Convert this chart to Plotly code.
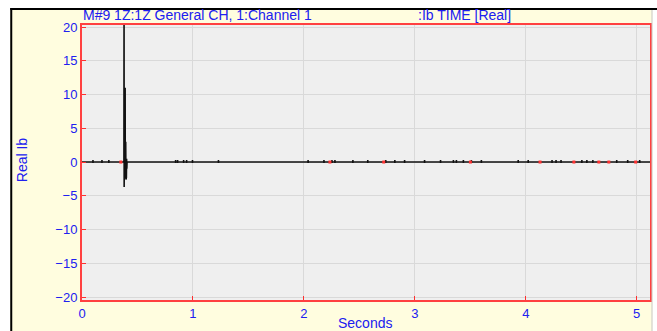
import plotly.graph_objects as go

# ---- data ----
x_range = [0, 5.12]
y_range = [-20.44, 20.3]

# main burst near 0.38 s
burst_t = [0.378, 0.379, 0.380, 0.381, 0.382, 0.383, 0.384, 0.385, 0.386, 0.387, 0.388,
           0.389, 0.390, 0.391, 0.392, 0.394, 0.396, 0.398, 0.400, 0.402, 0.404, 0.406]
burst_v = [0, 24, -3.7, 11.2, -2.0, 10.5, -1.8, 9.0, -2.2, 7.5, -1.5,
           11.0, -2.4, 6.0, -1.0, 3.0, -2.6, -0.5, -2.3, 0.5, -1.0, 0]

# tiny glitches along the zero line
glitch_t = [0.099, 0.180, 0.242, 0.844, 0.862, 0.916, 0.943, 0.996, 1.23, 2.038, 2.181,
            2.253, 2.280, 2.442, 2.576, 2.738, 2.82, 2.908, 3.088, 3.232, 3.348, 3.375,
            3.438, 3.510, 3.600, 3.932, 4.022, 4.237, 4.273, 4.318, 4.506, 4.551, 4.605,
            4.820, 4.919, 5.027]
glitch_hi = 0.3
glitch_lo = -0.15

# red marks on the zero line
red_t = [0.350, 2.235, 2.720, 3.501, 4.129, 4.434, 4.659, 4.749, 4.991]
red_v = [0, 0, 0, 0, 0, 0, 0, 0, 0]

x_ticks = [0, 1, 2, 3, 4, 5]
y_ticks = [-20, -15, -10, -5, 0, 5, 10, 15, 20]

title_left = "M#9 1Z:1Z General CH, 1:Channel 1"
title_right = ":Ib TIME [Real]"
y_title = "Real Ib"
x_title = "Seconds"

# ---- build series ----
pts = [(x_range[0], 0.0), (x_range[1], 0.0)]
pts += list(zip(burst_t, burst_v))
for t in glitch_t:
    pts += [(t - 0.0001, 0.0), (t, glitch_hi), (t + 0.00005, glitch_lo), (t + 0.0001, 0.0)]
pts.sort(key=lambda p: p[0])
xs = [p[0] for p in pts]
ys = [p[1] for p in pts]

BLUE = "#2020F0"
FONT = "Liberation Sans"

fig = go.Figure()
fig.add_trace(go.Scatter(x=xs, y=ys, mode="lines",
                         line=dict(color="#111111", width=1.6), hoverinfo="skip"))
fig.add_trace(go.Scatter(x=red_t, y=red_v, mode="markers",
                         marker=dict(color="#FF3030", size=3, symbol="square"), hoverinfo="skip"))

W, H = 657, 331
L, T = 82, 25
R = W - 652
B = H - 300
pw, ph = W - L - R, H - T - B


def px(xp):  # page pixel -> paper x
    return (xp - L) / pw


def py(yp):  # page pixel -> paper y
    return (H - B - yp) / ph


YEL = "#FFFDDF"

fig.update_layout(
    width=W, height=H,
    margin=dict(l=L, r=R, t=T, b=B),
    paper_bgcolor=YEL,
    plot_bgcolor="#EFEFEF",
    showlegend=False,
    font=dict(family=FONT, size=12, color=BLUE),
    xaxis=dict(range=x_range, tickvals=x_ticks, ticks="inside", ticklen=4, tickcolor="#FF3030",
               showgrid=True, gridcolor="#D9D9D9", gridwidth=1, zeroline=False,
               showline=True, linecolor="#FF4040", linewidth=2, mirror=True,
               tickfont=dict(family=FONT, size=13, color=BLUE)),
    yaxis=dict(range=y_range, tickvals=y_ticks, ticks="inside", ticklen=4, tickcolor="#FF3030",
               showgrid=True, gridcolor="#D9D9D9", gridwidth=1, zeroline=False,
               showline=True, linecolor="#FF4040", linewidth=2, mirror=True,
               tickfont=dict(family=FONT, size=13, color=BLUE)),
    shapes=[
        dict(type="rect", xref="paper", yref="paper", x0=px(-5), x1=px(10), y0=py(400), y1=py(-5),
             fillcolor="white", line=dict(width=0), layer="below"),
        dict(type="rect", xref="paper", yref="paper", x0=px(-5), x1=px(700), y0=py(8), y1=py(-5),
             fillcolor="white", line=dict(width=0), layer="below"),
        dict(type="rect", xref="paper", yref="paper", x0=px(654.5), x1=px(700), y0=py(400), y1=py(-5),
             fillcolor="white", line=dict(width=0), layer="below"),
        dict(type="line", xref="paper", yref="paper", x0=px(11), x1=px(11), y0=py(400), y1=py(8),
             line=dict(color="black", width=2), layer="above"),
        dict(type="line", xref="paper", yref="paper", x0=px(10), x1=px(700), y0=py(9), y1=py(9),
             line=dict(color="black", width=2), layer="above"),
        dict(type="line", xref="paper", yref="paper", x0=px(654), x1=px(654), y0=py(400), y1=py(10),
             line=dict(color="#C8C8C8", width=1), layer="above"),
    ],
    annotations=[
        dict(text=title_left, xref="paper", yref="paper", x=px(81), y=py(15), xanchor="left",
             yanchor="middle", showarrow=False, font=dict(family=FONT, size=14, color=BLUE)),
        dict(text=title_right, xref="paper", yref="paper", x=px(417), y=py(15), xanchor="left",
             yanchor="middle", showarrow=False, font=dict(family=FONT, size=14, color=BLUE)),
        dict(text=y_title, xref="paper", yref="paper", x=px(22), y=py(160), xanchor="center",
             yanchor="middle", textangle=-90, showarrow=False, font=dict(family=FONT, size=14, color=BLUE)),
        dict(text=x_title, xref="paper", yref="paper", x=px(366), y=py(323), xanchor="center",
             yanchor="middle", showarrow=False, font=dict(family=FONT, size=14, color=BLUE)),
    ],
)

fig.write_html("out.html",
               config={"displayModeBar": False},
               post_script="document.body.style.margin='0';document.body.style.overflow='hidden';")
